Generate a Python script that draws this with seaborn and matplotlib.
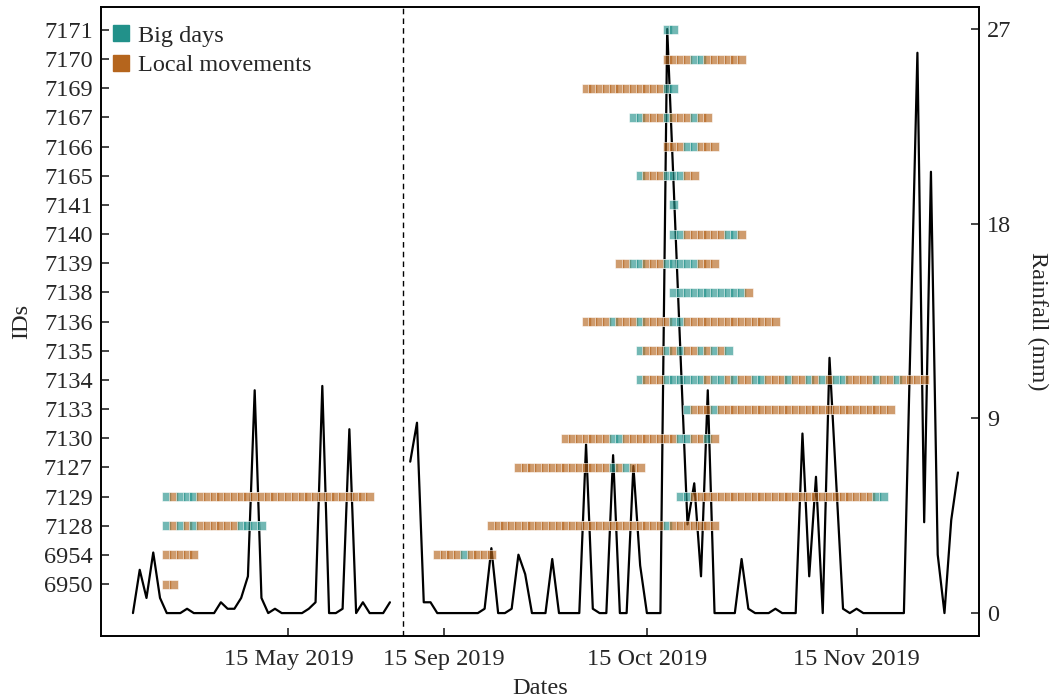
import numpy as np
import pandas as pd
import matplotlib
matplotlib.use("Agg")
import matplotlib.pyplot as plt
from matplotlib.lines import Line2D
import seaborn as sns

# ---------------------------------------------------------------------------
# Daily rainfall (mm) for the two field seasons
# ---------------------------------------------------------------------------
rain_spring_start = "2019-04-22"          # Apr 22 - May 30
rain_spring = [0, 2.0, 0.7, 2.8, 0.7, 0, 0, 0, 0.2, 0,
               0, 0, 0, 0.5, 0.2, 0.2, 0.7, 1.7, 10.3, 0.7,
               0, 0.2, 0, 0, 0, 0, 0.2, 0.5, 10.5, 0,
               0, 0.2, 8.5, 0, 0.5, 0, 0, 0, 0.5]

rain_autumn_start = "2019-09-10"          # Sep 10 - Nov 30
rain_autumn = [7.0, 8.8, 0.5, 0.5, 0, 0, 0, 0, 0, 0,
               0, 0.2, 3.0, 0, 0, 0.2, 2.7, 1.8, 0, 0,
               0, 2.5, 0, 0, 0, 0, 7.8, 0.2, 0, 0,
               7.3, 0, 0, 6.8, 2.2, 0, 0, 0, 27.0, 19.4,
               11.7, 4.1, 6.0, 1.7, 10.3, 0, 0, 0, 0, 2.5,
               0.2, 0, 0, 0, 0.2, 0, 0, 0, 8.3, 1.7,
               6.3, 0, 11.8, 6.0, 0.2, 0, 0.2, 0, 0, 0,
               0, 0, 0, 0, 13.0, 25.9, 4.2, 20.4, 2.7, 0,
               4.3, 6.5]

# ---------------------------------------------------------------------------
# Tracked individuals (bottom to top) and their daily movement class
# B = big day, L = local movement; one character per consecutive day
# ---------------------------------------------------------------------------
ids = ["6950", "6954", "7128", "7129", "7127", "7130", "7133", "7134",
       "7135", "7136", "7138", "7139", "7140", "7141", "7165", "7166",
       "7167", "7169", "7170", "7171"]

track_ids = ["6950", "6954", "6954", "7128", "7128", "7129", "7129",
             "7127", "7130", "7133", "7134", "7135", "7136", "7138",
             "7139", "7140", "7141", "7165", "7166", "7167", "7169",
             "7170", "7171"]
track_starts = ["2019-04-27", "2019-04-27", "2019-09-14", "2019-04-27",
                "2019-09-22", "2019-04-27", "2019-10-20", "2019-09-26",
                "2019-10-03", "2019-10-21", "2019-10-14", "2019-10-14",
                "2019-10-06", "2019-10-19", "2019-10-11", "2019-10-19",
                "2019-10-19", "2019-10-14", "2019-10-18", "2019-10-13",
                "2019-10-06", "2019-10-18", "2019-10-18"]
track_codes = [
    "LL",
    "LLLLL",
    "LLLLBLLLL",
    "BLBLBLLLLLLBBBB",
    "LLLLLLLLLLLLLLLLLLLLLLLLLLBLLLLLLL",
    "BLBBB" + "L" * 26,
    "BB" + "L" * 27 + "BB",
    "L" * 14 + "BLBLL",
    "LLLLLLLBBLLLLLLLLBBLLBL",
    "BLLLB" + "L" * 26,
    "BLLLBBBBBBLBBLBLLBBLLLBLLBLBLBBLLLLBLLBLLLL",
    "BLLLBLBLLBLBLB",
    "LLLLBLLLBLLLLBB" + "L" * 14,
    "BBBBBBBBBBBL",
    "LLBBLLLBBBBBLLL",
    "BBLLLLLLBBL",
    "B",
    "BLLLBBBLL",
    "LLLBBLLL",
    "BBLLLBLLLBLL",
    "L" * 12 + "BB",
    "LLLLBBLLLLLL",
    "BB",
]

tick_dates = ["2019-05-15", "2019-09-15", "2019-10-15", "2019-11-15"]
tick_labels = ["15 May 2019", "15 Sep 2019", "15 Oct 2019", "15 Nov 2019"]

# ---------------------------------------------------------------------------
# Broken time axis: the summer months are collapsed
# ---------------------------------------------------------------------------
SPRING0 = pd.Timestamp(rain_spring_start)
AUTUMN0 = pd.Timestamp(rain_autumn_start)
AUTUMN_POS = 41        # axis position of the first autumn day
BREAK_POS = 40         # dashed separator between the seasons


def to_pos(d):
    d = pd.Timestamp(d)
    if d < pd.Timestamp("2019-07-01"):
        return (d - SPRING0).days
    return AUTUMN_POS + (d - AUTUMN0).days


rain_frames = []
for start, vals, season in [(rain_spring_start, rain_spring, "spring"),
                            (rain_autumn_start, rain_autumn, "autumn")]:
    dates = pd.date_range(start, periods=len(vals), freq="D")
    rain_frames.append(pd.DataFrame({
        "pos": [to_pos(d) for d in dates],
        "rain": vals,
        "season": season,
    }))
rain_df = pd.concat(rain_frames, ignore_index=True)

kind_name = {"B": "Big days", "L": "Local movements"}
rows = []
for tid, start, code in zip(track_ids, track_starts, track_codes):
    dates = pd.date_range(start, periods=len(code), freq="D")
    for d, c in zip(dates, code):
        rows.append({"pos": to_pos(d), "row": ids.index(tid),
                     "kind": kind_name[c]})
track_df = pd.DataFrame(rows)

# ---------------------------------------------------------------------------
# Drawing
# ---------------------------------------------------------------------------
sns.set_style("ticks")
plt.rcParams["font.family"] = ["Liberation Serif", "DejaVu Serif"]
FS = 17.5
plt.rcParams["font.size"] = FS

palette = {"Big days": "#22918a", "Local movements": "#b5651d"}

fig = plt.figure(figsize=(10.54, 6.99), dpi=100)
ax = fig.add_axes([0.0958, 0.0901, 0.8330, 0.9000])
ax2 = ax.twinx()
ax.set_zorder(ax2.get_zorder() + 1)
ax.patch.set_visible(False)

# rainfall on the right axis, one segment per season
for season, sub in rain_df.groupby("season", sort=False):
    sns.lineplot(data=sub, x="pos", y="rain", color="black", lw=1.6,
                 ax=ax2, legend=False)

# daily movement class per individual
sns.scatterplot(data=track_df, x="pos", y="row", hue="kind",
                palette=palette, marker="s", s=42, alpha=0.64,
                edgecolor="white", linewidth=0.6, ax=ax, legend=False)

ax.axvline(BREAK_POS, color="black", ls=(0, (4, 3)), lw=1.0)

ax.set_xlim(-4.73, 125.1)
ax.set_ylim(-1.78, 19.79)
ax2.set_ylim(-1.06, 28.02)

ax.set_yticks(range(len(ids)))
ax.set_yticklabels(ids)
ax.set_xticks([to_pos(d) for d in tick_dates])
ax.set_xticklabels(tick_labels)
ax2.set_yticks([0, 9, 18, 27])

ax.set_xlabel("Dates", labelpad=6)
ax.set_ylabel("IDs", labelpad=8)
ax2.set_xlabel("")
ax2.set_ylabel("Rainfall (mm)", rotation=270, labelpad=26)

for a in (ax, ax2):
    a.tick_params(direction="in", length=6, width=1.2, labelsize=FS)
    for sp in a.spines.values():
        sp.set_visible(True)
        sp.set_linewidth(1.2)
        sp.set_color("black")
ax.tick_params(axis="x", pad=9)
ax.tick_params(axis="y", pad=6)
ax2.tick_params(axis="y", pad=6)

handles = [Line2D([], [], ls="none", marker="s", markersize=11.5,
                  markerfacecolor=palette[k], markeredgecolor=palette[k])
           for k in ["Big days", "Local movements"]]
ax.legend(handles, ["Big days", "Local movements"], loc="upper left",
          bbox_to_anchor=(0.0062, 0.979), frameon=False, fontsize=FS,
          handletextpad=0.3, labelspacing=0.3, handlelength=0.8,
          borderaxespad=0.0, borderpad=0.2)

fig.savefig("out.png", dpi=100)
